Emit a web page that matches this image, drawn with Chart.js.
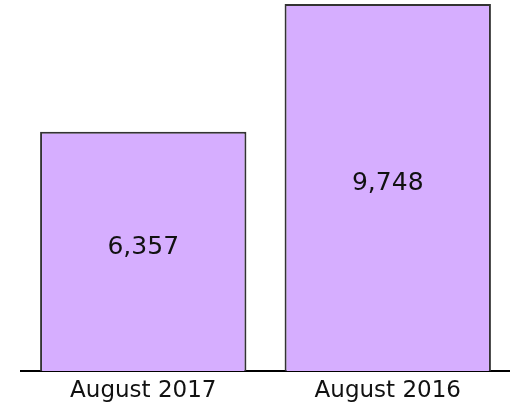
<!DOCTYPE html>
<html>
<head>
<meta charset="utf-8">
<script src="https://cdn.jsdelivr.net/npm/chart.js@4/dist/chart.umd.min.js"></script>
<style>
  html, body { margin: 0; padding: 0; background: #fff; }
  #wrap { width: 510px; height: 405px; position: relative; }
</style>
</head>
<body>
<div id="wrap"><canvas id="chart"></canvas></div>
<script>
// Data
const categories = ['August 2017', 'August 2016'];
const counts = [6357, 9748];

const BAR_FILL = '#D6AEFF';
const BAR_EDGE = '#333333';
const FONT = "'DejaVu Sans', sans-serif";

// value labels centred in each bar
const centerLabels = {
  id: 'centerLabels',
  afterDatasetsDraw(chart) {
    const ctx = chart.ctx;
    const meta = chart.getDatasetMeta(0);
    ctx.save();
    ctx.font = '25px ' + FONT;
    ctx.fillStyle = '#111';
    ctx.textAlign = 'center';
    ctx.textBaseline = 'middle';
    meta.data.forEach((bar, i) => {
      const y = (bar.y + bar.base) / 2 - 4;
      ctx.fillText(counts[i].toLocaleString('en-US'), bar.x, y);
    });
    ctx.restore();
  }
};

new Chart(document.getElementById('chart'), {
  type: 'bar',
  data: {
    labels: categories,
    datasets: [{
      data: counts,
      backgroundColor: BAR_FILL,
      borderColor: BAR_EDGE,
      borderWidth: 2,
      borderSkipped: 'bottom',
      barPercentage: 0.844,
      categoryPercentage: 1
    }]
  },
  options: {
    responsive: true,
    maintainAspectRatio: false,
    animation: false,
    layout: { padding: { left: 21, right: 0, top: 4, bottom: 0 } },
    plugins: {
      legend: { display: false },
      tooltip: { enabled: false }
    },
    scales: {
      x: {
        afterFit(scale) { scale.height = 34; },
        grid: { display: false, drawTicks: false },
        border: { display: true, color: '#000', width: 2 },
        ticks: { color: '#111', font: { family: FONT, size: 23 }, padding: 6 }
      },
      y: {
        display: false,
        min: 0,
        max: 9748
      }
    }
  },
  plugins: [centerLabels]
});
</script>
</body>
</html>
